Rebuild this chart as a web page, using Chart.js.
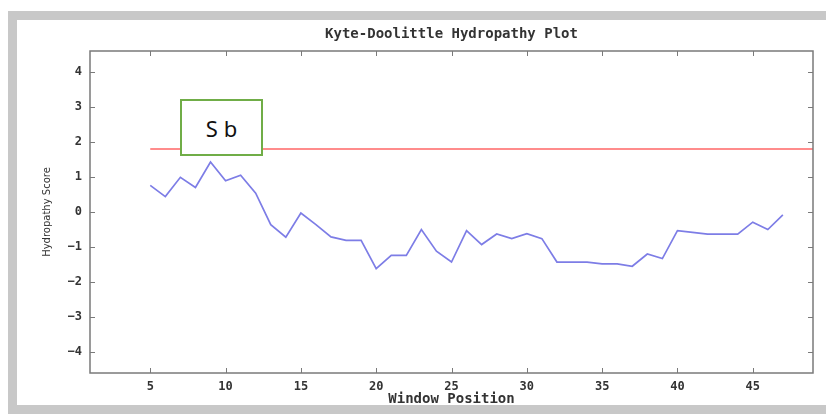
<!DOCTYPE html>
<html>
<head>
<meta charset="utf-8">
<script src="https://cdn.jsdelivr.net/npm/chart.js@4/dist/chart.umd.min.js"></script>
<style>
  html, body { margin: 0; padding: 0; background: #fff; }
  #wrap { position: relative; width: 826px; height: 414px; overflow: hidden; }
  #chart { position: absolute; left: 0; top: 0; }
  .band { position: absolute; background: #c8c8c8; }
  #note {
    position: absolute; left: 180px; top: 99px; width: 79px; height: 53px;
    border: 2px solid #70ad47; background: #fff;
    font: 22px "Noto Sans", sans-serif; color: #111;
    display: flex; align-items: center; justify-content: center;
  }
</style>
</head>
<body>
<div id="wrap">
  <canvas id="chart" width="826" height="414"></canvas>
  <div class="band" style="left:8px; top:11px; width:818px; height:9px;"></div>
  <div class="band" style="left:8px; top:11px; width:9px; height:403px;"></div>
  <div class="band" style="left:8px; top:405px; width:818px; height:9px;"></div>
  <div id="note">S b</div>
</div>
<script>
// ---------------------------------------------------------------
//  Data
// ---------------------------------------------------------------
const positions = [5, 6, 7, 8, 9, 10, 11, 12, 13, 14, 15, 16, 17, 18, 19, 20, 21, 22, 23, 24,
                   25, 26, 27, 28, 29, 30, 31, 32, 33, 34, 35, 36, 37, 38, 39, 40, 41, 42, 43, 44,
                   45, 46, 47];
const scores = [0.76, 0.44, 0.99, 0.70, 1.43, 0.89, 1.05, 0.54, -0.36, -0.72,
                -0.03, -0.36, -0.71, -0.81, -0.81, -1.62, -1.24, -1.24, -0.50, -1.12,
                -1.43, -0.53, -0.93, -0.63, -0.76, -0.62, -0.76, -1.43, -1.43, -1.43,
                -1.48, -1.48, -1.55, -1.20, -1.33, -0.53, -0.58, -0.63, -0.63, -0.63,
                -0.29, -0.50, -0.08];
const thresholdX = [5, 49];
const thresholdY = [1.8, 1.8];

const xTicks = [5, 10, 15, 20, 25, 30, 35, 40, 45];
const yTicks = [-4, -3, -2, -1, 0, 1, 2, 3, 4];

const MONO = "'DejaVu Sans Mono', monospace";

// ---------------------------------------------------------------
//  Box border + inward tick marks on all four sides
// ---------------------------------------------------------------
const framePlugin = {
  id: "frame",
  afterDatasetsDraw(chart) {
    const { ctx, chartArea: a, scales: { x, y } } = chart;
    ctx.save();
    ctx.strokeStyle = "#7a7a7a";
    ctx.lineWidth = 1.5;
    ctx.strokeRect(a.left, a.top, a.right - a.left, a.bottom - a.top);
    ctx.lineWidth = 1;
    ctx.beginPath();
    xTicks.forEach(v => {
      const px = Math.round(x.getPixelForValue(v)) + 0.5;
      ctx.moveTo(px, a.bottom); ctx.lineTo(px, a.bottom - 5);
      ctx.moveTo(px, a.top);    ctx.lineTo(px, a.top + 5);
    });
    yTicks.forEach(v => {
      const py = Math.round(y.getPixelForValue(v)) + 0.5;
      ctx.moveTo(a.left, py);  ctx.lineTo(a.left + 5, py);
      ctx.moveTo(a.right, py); ctx.lineTo(a.right - 5, py);
    });
    ctx.stroke();
    ctx.restore();
  },
};

new Chart(document.getElementById("chart"), {
  type: "line",
  data: {
    datasets: [
      {
        label: "Threshold",
        data: thresholdX.map((v, i) => ({ x: v, y: thresholdY[i] })),
        borderColor: "rgb(255,140,140)",
        borderWidth: 2,
        pointRadius: 0,
      },
      {
        label: "Hydropathy",
        data: positions.map((p, i) => ({ x: p, y: scores[i] })),
        borderColor: "rgb(125,125,230)",
        borderWidth: 1.7,
        pointRadius: 0,
        tension: 0,
      },
    ],
  },
  options: {
    responsive: false,
    animation: false,
    layout: { padding: { left: 0, right: 13, top: 0, bottom: 0 } },
    plugins: {
      legend: { display: false },
      tooltip: { enabled: false },
      title: {
        display: true,
        fullSize: false,
        text: "Kyte-Doolittle Hydropathy Plot",
        color: "#333",
        font: { family: MONO, size: 14, weight: "bold", lineHeight: 1.2 },
        padding: { top: 25.6, bottom: 8.6 },
      },
    },
    scales: {
      x: {
        type: "linear",
        min: 1,
        max: 49,
        afterBuildTicks: s => { s.ticks = xTicks.map(v => ({ value: v })); },
        afterFit: s => { s.height = 41; },
        grid: { display: false, drawTicks: false },
        border: { display: false },
        ticks: {
          autoSkip: false,
          maxRotation: 0,
          padding: 7,
          color: "#333",
          font: { family: MONO, size: 12, weight: "bold" },
        },
        title: {
          display: true,
          text: "Window Position",
          color: "#333",
          font: { family: MONO, size: 14, weight: "bold", lineHeight: 1.2 },
          padding: { top: 0, bottom: 6 },
        },
      },
      y: {
        min: -4.6,
        max: 4.6,
        afterBuildTicks: s => { s.ticks = yTicks.map(v => ({ value: v })); },
        afterFit: s => { s.width = 90; },
        grid: { display: false, drawTicks: false },
        border: { display: false },
        ticks: {
          padding: 8,
          color: "#333",
          font: { family: MONO, size: 12, weight: "bold" },
          callback: v => (v < 0 ? "\u2212" + Math.abs(v) : String(v)),
        },
        title: {
          display: true,
          text: "Hydropathy Score",
          color: "#333",
          font: { family: "'DejaVu Sans', sans-serif", size: 10, lineHeight: 1.2 },
          padding: { top: 41, bottom: 0 },
        },
      },
    },
  },
  plugins: [framePlugin],
});
</script>
</body>
</html>
